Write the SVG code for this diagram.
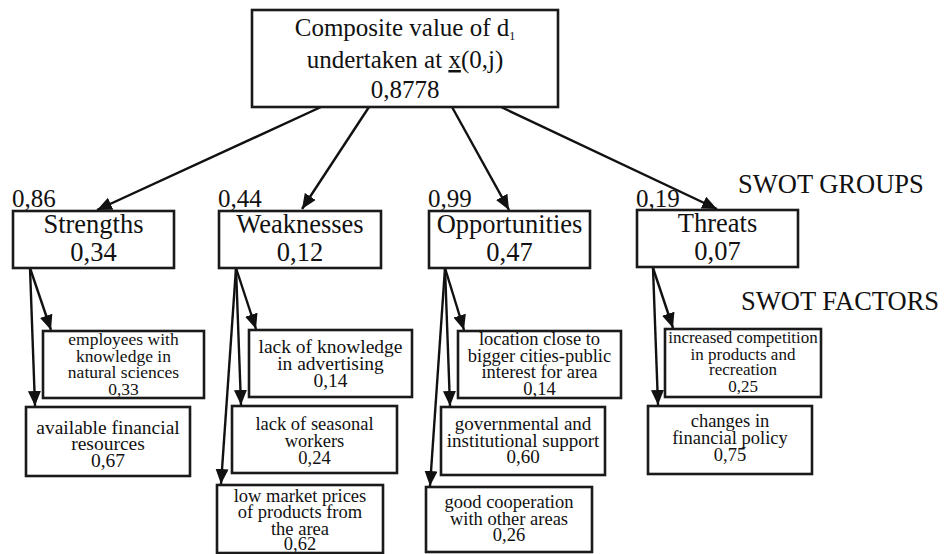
<svg xmlns="http://www.w3.org/2000/svg" width="946" height="554" viewBox="0 0 946 554">
<style>
text{font-family:"Liberation Serif","Times New Roman",serif;fill:#111;text-anchor:middle}
.box{fill:#fff;stroke:#1a1a1a;stroke-width:2.6}
.big{font-size:25px}
.grp{font-size:26.5px}
.lbl{font-size:25px;text-anchor:start}
.side{font-size:26.5px;text-anchor:start}
.f{font-size:18.5px}
.s175{font-size:17.5px}
.s195{font-size:19.5px}
.s19{font-size:19px}
.s17{font-size:17px}
.con line{stroke:#111;stroke-width:2.4;marker-end:url(#ah)}
</style>
<defs>
<marker id="ah" markerUnits="userSpaceOnUse" markerWidth="16" markerHeight="14" refX="15" refY="6.5" orient="auto">
<path d="M0,0 L15,6.5 L0,13 z" fill="#111"/>
</marker>
</defs>
<g id="connectors" class="con">
<line x1="321" y1="107" x2="97" y2="210"/>
<line x1="369" y1="107" x2="302" y2="209"/>
<line x1="452" y1="107" x2="509" y2="210"/>
<line x1="501" y1="107" x2="717" y2="209"/>
<line x1="30" y1="268" x2="51" y2="330"/>
<line x1="30" y1="268" x2="35" y2="406"/>
<line x1="236" y1="268" x2="256" y2="329"/>
<line x1="236" y1="268" x2="241" y2="405"/>
<line x1="236" y1="268" x2="221" y2="484"/>
<line x1="445" y1="268" x2="464" y2="330"/>
<line x1="445" y1="268" x2="450" y2="406"/>
<line x1="445" y1="268" x2="430" y2="486"/>
<line x1="653" y1="268" x2="673" y2="328"/>
<line x1="653" y1="268" x2="658" y2="405"/>
</g>
<g id="root">
<rect class="box" x="252" y="10" width="306" height="97"/>
<text class="big" x="405" y="36">Composite value of d<tspan font-size="12" dy="4">1</tspan></text>
<text class="big" x="405" y="68">undertaken at <tspan text-decoration="underline">x</tspan>(0,j)</text>
<text class="big" x="405" y="98">0,8778</text>
</g>
<g id="strengths">
<text class="lbl" x="12" y="207">0,86</text>
<rect class="box" x="13" y="211" width="161" height="57"/>
<text class="grp" x="93.5" y="233">Strengths</text>
<text class="grp" x="93.5" y="261">0,34</text>
</g>
<g id="weaknesses">
<text class="lbl" x="218" y="207">0,44</text>
<rect class="box" x="219" y="211" width="162" height="57"/>
<text class="grp" x="300" y="233">Weaknesses</text>
<text class="grp" x="300" y="261">0,12</text>
</g>
<g id="opportunities">
<text class="lbl" x="428" y="207">0,99</text>
<rect class="box" x="429" y="211" width="161" height="57"/>
<text class="grp" x="509.5" y="233">Opportunities</text>
<text class="grp" x="509.5" y="261">0,47</text>
</g>
<g id="threats">
<text class="lbl" x="636" y="207">0,19</text>
<rect class="box" x="637" y="210" width="161" height="57"/>
<text class="grp" x="717.5" y="232">Threats</text>
<text class="grp" x="717.5" y="260">0,07</text>
</g>
<g id="labels">
<text class="side" x="738" y="193">SWOT GROUPS</text>
<text class="side" x="741" y="310">SWOT FACTORS</text>
</g>
<g id="s1">
<rect class="box" x="43" y="331" width="161" height="67"/>
<text class="s175" x="123.5" y="345">employees with</text>
<text class="s175" x="123.5" y="362">knowledge in</text>
<text class="s175" x="123.5" y="378">natural sciences</text>
<text class="s175" x="123.5" y="395">0,33</text>
</g>
<g id="s2">
<rect class="box" x="26" y="407" width="164" height="69"/>
<text class="s195" x="108" y="434">available financial</text>
<text class="s195" x="108" y="450">resources</text>
<text class="s195" x="108" y="467">0,67</text>
</g>
<g id="w1">
<rect class="box" x="249" y="330" width="163" height="67"/>
<text class="s195" x="330.5" y="353">lack of knowledge</text>
<text class="s195" x="330.5" y="370">in advertising</text>
<text class="s195" x="330.5" y="387">0,14</text>
</g>
<g id="w2">
<rect class="box" x="232" y="406" width="165" height="67"/>
<text class="f" x="314.5" y="430">lack of seasonal</text>
<text class="f" x="314.5" y="447">workers</text>
<text class="f" x="314.5" y="464">0,24</text>
</g>
<g id="w3">
<rect class="box" x="217" y="485" width="166" height="68"/>
<text class="f" x="300" y="502">low market prices</text>
<text class="f" x="300" y="518">of products from</text>
<text class="f" x="300" y="535">the area</text>
<text class="f" x="300" y="550">0,62</text>
</g>
<g id="o1">
<rect class="box" x="458" y="331" width="163" height="67"/>
<text class="f" x="539.5" y="345">location close to</text>
<text class="f" x="539.5" y="362">bigger cities-public</text>
<text class="f" x="539.5" y="378">interest for area</text>
<text class="f" x="539.5" y="395">0,14</text>
</g>
<g id="o2">
<rect class="box" x="441" y="407" width="164" height="68"/>
<text class="s19" x="523" y="430">governmental and</text>
<text class="s19" x="523" y="447">institutional support</text>
<text class="s19" x="523" y="463">0,60</text>
</g>
<g id="o3">
<rect class="box" x="426" y="487" width="166" height="65"/>
<text class="f" x="509" y="508">good cooperation</text>
<text class="f" x="509" y="525">with other areas</text>
<text class="f" x="509" y="541">0,26</text>
</g>
<g id="t1">
<rect class="box" x="665" y="329" width="156" height="68"/>
<text class="s17" x="743" y="343">increased competition</text>
<text class="s17" x="743" y="360">in products and</text>
<text class="s17" x="743" y="375">recreation</text>
<text class="s17" x="743" y="392">0,25</text>
</g>
<g id="t2">
<rect class="box" x="648" y="406" width="164" height="68"/>
<text class="f" x="730" y="427">changes in</text>
<text class="f" x="730" y="444">financial policy</text>
<text class="f" x="730" y="461">0,75</text>
</g>
</svg>
